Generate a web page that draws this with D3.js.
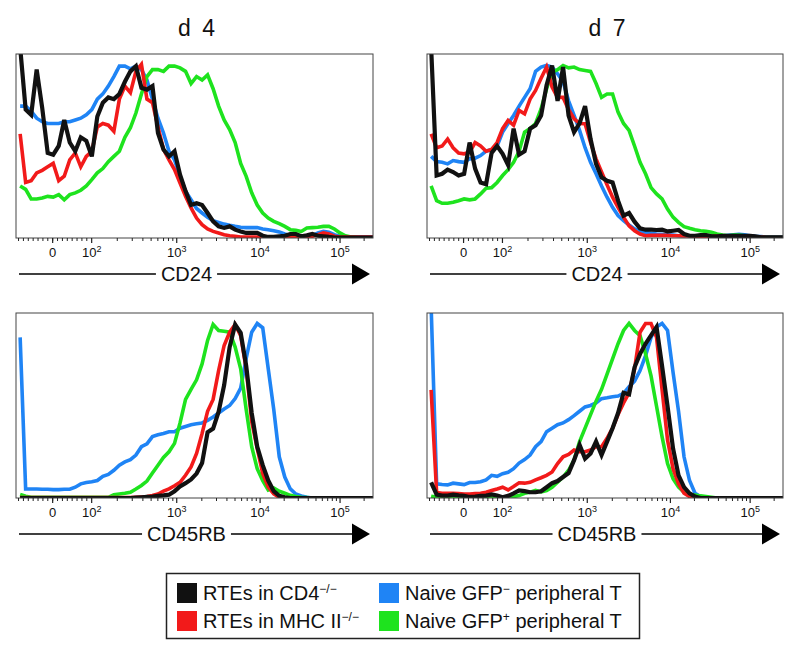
<!DOCTYPE html>
<html>
<head>
<meta charset="utf-8">
<script src="https://cdn.jsdelivr.net/npm/d3@7"></script>
<style>
  body { margin: 0; background: #fff; }
  svg { display: block; font-family: 'Liberation Sans', Arial, sans-serif; }
</style>
</head>
<body>
<svg width="800" height="656"></svg>
<script>
// display channels (biexponential axis, 0..256), one value every 4 channels
const channels = d3.range(0, 257, 4)

// % of mode, d4 CD24
const d4Cd24Black = [
  110, 74, 71, 97, 75, 49, 48, 53,
  68, 55, 50, 58, 56, 47, 70, 78,
  81, 80, 83, 90, 96, 99, 86.5, 85.5,
  87.5, 60.5, 51, 47, 50, 36.5, 27, 19,
  20, 19, 14.4, 9.6, 6.7, 5.8, 6.7, 4.8,
  3.8, 2.9, 2.9, 2.9, 1.3, 0.6, 0.6, 1,
  1.3, 2.3, 2.3, 1, 1.5, 2.3, 1.3, 1,
  0.6, 0.3, 0.3, 0.3, 0.3, 0.3, 0.3, 0.3,
  0.3]
const d4Cd24Red = [
  60, 32, 33, 37.5, 39, 41, 43, 33,
  35.6, 45, 49, 41, 47, 50, 64, 66,
  65, 61.5, 80, 87.5, 83.7, 96, 100, 80,
  78, 64, 51, 45, 39.4, 31.7, 24, 17.3,
  11.5, 7.7, 5.2, 3.8, 2.9, 1.9, 1.3, 1,
  0.6, 0.6, 0.6, 0.6, 0.6, 0.6, 0.6, 0.6,
  0.6, 0.6, 0.6, 0.6, 0.6, 1, 1.9, 2.9,
  2.3, 1, 0.5, 0.5, 0.5, 0.5, 0.5, 0.5,
  0.5]
const d4Cd24Blue = [
  76, 76, 73, 69, 67, 66, 66, 66,
  67, 67, 68, 69, 71, 74, 80, 83,
  87.5, 93, 99, 99, 97.5, 99, 97, 91,
  80, 69, 60.5, 50, 45, 35.6, 27, 22,
  17, 14.4, 12, 10, 9, 8, 7.3, 6.7,
  6.2, 6, 6, 6, 5.2, 4.8, 4.2, 3.5,
  2.3, 1.5, 1, 0.6, 1, 1.3, 2.9, 3.8,
  3.3, 1.9, 1, 0.6, 0.6, 0.6, 0.6, 0.6,
  0.6]
const d4Cd24Green = [
  30, 28, 22.5, 22.5, 23, 24, 23.6, 25,
  22, 25, 26, 27.5, 30, 33.6, 37.5, 40,
  44, 47, 50, 58, 63.5, 72, 83, 93,
  97, 97, 96, 99, 99, 98, 96, 89,
  93, 91, 94, 86, 76, 68, 62.5, 55,
  43, 35.5, 26, 19, 14.4, 11.5, 9.6, 8.3,
  6.7, 4.8, 4.4, 3.8, 5.8, 6, 6.2, 6.7,
  6.7, 5.2, 2.9, 1.3, 0.6, 0.2, 0, 0,
  0]

// % of mode, d7 CD24
const d7Cd24Black = [
  110, 36, 37, 39.4, 38, 36, 37, 55,
  40, 32, 31, 49, 53, 48.5, 42, 63,
  48, 50, 63, 65, 70.5, 88, 99.4, 79,
  98.5, 70.5, 61, 66, 76, 57, 42.7, 35,
  33, 32, 21.5, 12.9, 14.4, 9.4, 5.6, 4.8,
  4.8, 4.6, 4.8, 3.8, 4.2, 4.6, 2.3, 1.3,
  1.3, 1.7, 1.7, 1, 1, 1.2, 1.2, 1.2,
  1.2, 1.2, 1.2, 1, 0.4, 0.4, 0.4, 0.4,
  0.4]
const d7Cd24Red = [
  60, 52, 53, 57, 52, 49, 48.5, 49.4,
  55, 53, 50, 51, 55, 63, 67.7, 65,
  73.5, 71.5, 80, 85, 92, 98.5, 87, 81,
  81, 74, 68.7, 66, 65.8, 55, 45.6, 38,
  30.6, 23.5, 17.7, 12, 7, 4.2, 2.3, 1.3,
  1.5, 1.5, 1.5, 1.5, 1.3, 1.3, 1.2, 1.2,
  1, 1, 1, 1, 1, 1, 1.2, 1.2,
  1.2, 1, 0.8, 0.6, 0.6, 0.3, 0.3, 0.3,
  0.3]
const d7Cd24Blue = [
  47, 44, 43.6, 42.7, 44.6, 44, 43.6, 45.6,
  46, 47.5, 50, 51, 53, 61, 66, 70.6,
  76, 81, 86, 96, 98.5, 99.4, 98.5, 94.6,
  90, 79, 70.6, 62, 52, 43.6, 37, 30,
  23.5, 17.7, 12.9, 10, 7.5, 5.2, 3.8, 3.3,
  2.7, 2.3, 2.1, 1.9, 1.7, 1.3, 1.3, 1.3,
  1.3, 1.3, 1.3, 1.3, 1.3, 1.2, 1.5, 1.8,
  2.1, 1.9, 1.3, 1, 0.8, 0.5, 0.5, 0.5,
  0.5]
const d7Cd24Green = [
  30, 21.5, 20, 20, 20.6, 21.5, 22.5, 22,
  22.5, 25.4, 28.7, 29, 32, 36, 39.4, 43.6,
  50, 61, 63, 66, 74.4, 86, 95.6, 97,
  99.4, 98, 98.5, 97, 96.5, 96, 89, 81,
  83, 83, 72.5, 66, 62, 53, 43.6, 37,
  29, 25.4, 22.5, 16.7, 12, 9, 6.5, 5.6,
  4.8, 4.2, 3.8, 3.3, 2.3, 1.7, 1.3, 1.7,
  1.7, 1.3, 1, 0.6, 0.2, 0.2, 0.2, 0.2,
  0.2]

// % of mode, d4 CD45RB
const d4Cd45Black = [
  0, 0, 0, 0, 0, 0, 0, 0,
  0, 0, 0, 0, 0, 0, 0, 0,
  0, 0, 0, 0, 0, 0.2, 0.4, 0.6,
  0.8, 1.2, 1.5, 1.9, 3.9, 6.6, 8.5, 10.6,
  14, 20, 37.7, 39.8, 49.5, 64.6, 86.5, 99.4,
  94.7, 75.8, 48.7, 29.4, 18.8, 10, 3.9, 1.2,
  0.4, 0, 0, 0, 0, 0, 0, 0,
  0, 0, 0, 0, 0, 0, 0, 0,
  0]
const d4Cd45Red = [
  0.2, 0.2, 0.2, 0.2, 0.2, 0.2, 0.2, 0.2,
  0.2, 0.2, 0.2, 0.2, 0.2, 0.2, 0.2, 0.2,
  0.2, 0.2, 0.2, 0.2, 0.2, 0.4, 0.6, 0.8,
  1.4, 2.3, 3.9, 5.2, 7, 9, 13, 17.8,
  25.5, 37, 49.7, 56.5, 73, 87.4, 95, 99.4,
  93, 74, 43.9, 28.4, 14, 6.2, 2.3, 0.4,
  0, 0, 0, 0, 0, 0, 0, 0,
  0, 0, 0, 0, 0, 0, 0, 0,
  0]
const d4Cd45Blue = [
  92, 5.2, 5.2, 5.2, 5, 5, 4.8, 4.8,
  5, 5, 6.2, 8.1, 8.9, 9.3, 10, 12.4,
  13.5, 15.9, 18.8, 20.7, 22, 24.6, 29.4, 31,
  35.2, 36.2, 37, 38, 38, 40, 41, 42,
  42.5, 43, 44.5, 46.4, 48.7, 51, 53, 57,
  63, 80, 95, 100, 97.5, 74, 50.7, 23.6,
  12, 5.2, 2.3, 1.2, 0.4, 0, 0, 0,
  0, 0, 0, 0, 0, 0, 0, 0,
  0]
const d4Cd45Green = [
  2, 1, 0.4, 0.4, 0.4, 0.4, 0.4, 0.4,
  0.4, 0.4, 0.4, 0.4, 0.4, 0.4, 0.4, 0.4,
  0.4, 1.9, 2.3, 2.7, 3.3, 5.2, 7.2, 9.7,
  14.3, 18.8, 23.2, 26.5, 31.3, 43, 56.5, 62.3,
  67.7, 76.8, 90.3, 99.4, 96, 95.5, 95, 86.5,
  74, 50.7, 29.4, 16.8, 10, 4.6, 5.8, 3.9,
  2.7, 1.5, 0.8, 0.4, 0.2, 0, 0, 0,
  0, 0, 0, 0, 0, 0, 0, 0,
  0]

// % of mode, d7 CD45RB
const d7Cd45Black = [
  9, 1.9, 1.4, 1.4, 1.9, 1.5, 1.2, 0.6,
  0.8, 1.2, 1.4, 2.1, 1.4, 0.4, 1.2, 2.7,
  4.3, 3.9, 3.3, 3.3, 3.9, 6.2, 8.5, 9.7,
  12, 14.3, 21.7, 30.4, 22.6, 25.5, 32.3, 24.6,
  32.3, 40, 48.7, 60.3, 59.4, 74.9, 82.6, 88.4,
  93.2, 98, 75.8, 52.6, 28.4, 13, 6.2, 2.7,
  0.8, 0, 0, 0, 0, 0, 0, 0,
  0, 0, 0, 0, 0, 0, 0, 0,
  0]
const d7Cd45Red = [
  62, 3.1, 2.7, 2.7, 2.7, 2.5, 2.3, 2.3,
  2.5, 2.7, 3.3, 4.3, 5.2, 6.2, 4.6, 6.6,
  8.7, 8.5, 9, 10.4, 11.6, 13, 14.9, 19.7,
  23.6, 25, 27.5, 26.5, 26.5, 27.5, 29.4, 29.4,
  34.2, 40, 47.8, 54.5, 60.3, 73.9, 95, 100,
  100, 92, 62.3, 33.3, 16.8, 8.1, 2.7, 0.8,
  0, 0, 0, 0, 0, 0, 0, 0,
  0, 0, 0, 0, 0, 0, 0, 0,
  0]
const d7Cd45Blue = [
  110, 8.1, 7.7, 7.5, 8.5, 8.1, 7.7, 8.9,
  8.9, 9.3, 10.4, 13, 12.4, 13.9, 14.7, 16.8,
  20, 22, 24.6, 29.4, 32.3, 38, 40, 42,
  43, 44.9, 47.2, 49.7, 52.2, 53, 54.5, 56.9,
  57.4, 58, 58.4, 60, 63.8, 67, 73, 81.6,
  92, 98, 100, 96, 72, 49.7, 23.6, 10,
  2.7, 0.8, 0.3, 0, 0, 0, 0, 0,
  0, 0, 0, 0, 0, 0, 0, 0,
  0]
const d7Cd45Green = [
  1, 0.5, 0.5, 0.5, 0.5, 0.5, 0.5, 0.5,
  0.5, 0.5, 0.5, 0.5, 0.5, 0.5, 0.4, 0.8,
  1.4, 2.7, 3.3, 4.3, 3.5, 4.3, 6.2, 9,
  12, 15.9, 21.7, 32.3, 40, 47.8, 55.5, 62.3,
  71, 79.7, 88.4, 96, 100, 96, 93, 82.6,
  70, 52.6, 35.2, 19.7, 11, 6.2, 3.3, 1.9,
  1.7, 1.2, 0.8, 0.4, 0, 0, 0, 0,
  0, 0, 0, 0, 0, 0, 0, 0,
  0]

// axis ticks (channel positions of 0, 10^2 ... 10^5)
const tickChannels = [23.6, 51.9, 113.6, 174.1, 232.1]
const tickBases = ['0', '10', '10', '10', '10']
const tickExps = ['', '2', '3', '4', '5']

// legend
const legendNames = ['RTEs in CD4', 'RTEs in MHC II', 'Naive GFP', 'Naive GFP']
const legendSups = ['\u2212/\u2212', '\u2212/\u2212', '\u2212', '+']
const legendTails = ['', '', ' peripheral T', ' peripheral T']

const colors = { blue: '#1f84f5', green: '#1ee31e', red: '#f21a1a', black: '#111111' }
const drawOrder = ['blue', 'green', 'red', 'black']

const panels = [
  { title: 'd 4', axis: 'CD24', left: 16, top: 54, right: 373, bottom: 238,
    series: { blue: d4Cd24Blue, green: d4Cd24Green, red: d4Cd24Red, black: d4Cd24Black } },
  { title: 'd 7', axis: 'CD24', left: 427, top: 54, right: 783, bottom: 238,
    series: { blue: d7Cd24Blue, green: d7Cd24Green, red: d7Cd24Red, black: d7Cd24Black } },
  { title: null, axis: 'CD45RB', left: 16, top: 313, right: 373, bottom: 498,
    series: { blue: d4Cd45Blue, green: d4Cd45Green, red: d4Cd45Red, black: d4Cd45Black } },
  { title: null, axis: 'CD45RB', left: 427, top: 313, right: 783, bottom: 498,
    series: { blue: d7Cd45Blue, green: d7Cd45Green, red: d7Cd45Red, black: d7Cd45Black } }
]

panels.forEach(p => drawOrder.forEach(k => {
  if (p.series[k].length !== channels.length) throw new Error(p.axis + ' ' + p.title + ' ' + k + ' has ' + p.series[k].length)
}))

// minor ticks: linear part below 10^2, log steps above
const minorTicks = []
const linStep = (tickChannels[1] - tickChannels[0]) / 8
for (let c = tickChannels[1] - linStep; c > -3; c -= linStep) minorTicks.push(c)
const decades = tickChannels.slice(1)
decades.forEach((c, i) => {
  const w = i < decades.length - 1 ? decades[i + 1] - c : decades[i] - decades[i - 1]
  d3.range(2, 10).forEach(k => {
    const m = c + Math.log10(k) * w
    if (m < 256) minorTicks.push(m)
  })
})

const svg = d3.select('svg')

panels.forEach((p, pi) => {
  const x = d3.scaleLinear().domain([-3, 256]).range([p.left, p.right])
  const y = d3.scaleLinear().domain([0, 106]).range([p.bottom, p.top])

  svg.append('clipPath')
      .attr('id', 'clip' + pi)
    .append('rect')
      .attr('x', p.left)
      .attr('y', p.top)
      .attr('width', p.right - p.left)
      .attr('height', p.bottom - p.top)

  const line = d3.line()
      .x((d, i) => x(channels[i]))
      .y(d => y(d))

  const g = svg.append('g')
      .attr('clip-path', 'url(#clip' + pi + ')')

  drawOrder.forEach(k => {
    g.append('path')
        .attr('d', line(p.series[k]))
        .attr('fill', 'none')
        .attr('stroke', colors[k])
        .attr('stroke-width', k === 'black' ? 4.2 : 3.6)
        .attr('stroke-linejoin', 'miter')
  })

  svg.append('rect')
      .attr('x', p.left)
      .attr('y', p.top)
      .attr('width', p.right - p.left)
      .attr('height', p.bottom - p.top)
      .attr('fill', 'none')
      .attr('stroke', '#444')
      .attr('stroke-width', 1)

  // ticks
  svg.append('g')
    .selectAll('line')
    .data(minorTicks)
    .join('line')
      .attr('x1', d => x(d))
      .attr('x2', d => x(d))
      .attr('y1', p.bottom)
      .attr('y2', p.bottom + 3)
      .attr('stroke', '#222')
      .attr('stroke-width', 1)

  svg.append('g')
    .selectAll('line')
    .data(tickChannels)
    .join('line')
      .attr('x1', d => x(d))
      .attr('x2', d => x(d))
      .attr('y1', p.bottom)
      .attr('y2', p.bottom + 5)
      .attr('stroke', '#222')
      .attr('stroke-width', 1.2)

  const labels = svg.append('g')
    .selectAll('text')
    .data(tickChannels)
    .join('text')
      .attr('x', d => x(d))
      .attr('y', p.bottom + 19)
      .attr('text-anchor', 'middle')
      .attr('font-size', 13)
      .attr('fill', '#111')

  labels.append('tspan')
      .text((d, i) => tickBases[i])
  labels.append('tspan')
      .attr('font-size', 9)
      .attr('dy', -5)
      .text((d, i) => tickExps[i])

  // axis arrow with label
  const ay = p.bottom + 36
  const tip = p.right - 3
  svg.append('line')
      .attr('x1', p.left + 3)
      .attr('x2', tip - 14)
      .attr('y1', ay)
      .attr('y2', ay)
      .attr('stroke', '#000')
      .attr('stroke-width', 1.5)

  svg.append('path')
      .attr('d', `M ${tip} ${ay} L ${tip - 18} ${ay - 10.5} L ${tip - 18} ${ay + 10.5} z`)
      .attr('fill', '#000')

  const lx = (p.left + p.right) / 2 - 8
  const gap = svg.append('rect')
      .attr('fill', '#fff')
  const label = svg.append('text')
      .attr('x', lx)
      .attr('y', ay + 7)
      .attr('text-anchor', 'middle')
      .attr('font-size', 20)
      .attr('fill', '#111')
      .text(p.axis)
  const bb = label.node().getBBox()
  gap
      .attr('x', bb.x - 5)
      .attr('y', ay - 3)
      .attr('width', bb.width + 10)
      .attr('height', 6)

  if (p.title) {
    svg.append('text')
        .attr('x', (p.left + p.right) / 2 + 2)
        .attr('y', 36)
        .attr('text-anchor', 'middle')
        .attr('font-size', 23)
        .attr('word-spacing', 5)
        .attr('fill', '#111')
        .text(p.title)
  }
})

// legend
svg.append('rect')
    .attr('x', 166.5)
    .attr('y', 573.5)
    .attr('width', 473)
    .attr('height', 65)
    .attr('fill', '#fff')
    .attr('stroke', '#222')
    .attr('stroke-width', 1.5)

const legendColors = ['black', 'red', 'blue', 'green']
const items = svg.append('g')
  .selectAll('g')
  .data(legendNames)
  .join('g')
    .attr('transform', (d, i) => `translate(${i < 2 ? 177 : 379},${i % 2 === 0 ? 583 : 611})`)

items.append('rect')
    .attr('width', 20)
    .attr('height', 20)
    .attr('fill', (d, i) => colors[legendColors[i]])

const itemText = items.append('text')
    .attr('x', 26)
    .attr('y', 17)
    .attr('font-size', 20)
    .attr('fill', '#111')

itemText.append('tspan')
    .text(d => d)
itemText.append('tspan')
    .attr('font-size', 12)
    .attr('dy', -7)
    .text((d, i) => legendSups[i])
itemText.append('tspan')
    .attr('dy', 7)
    .text((d, i) => legendTails[i])
</script>
</body>
</html>
